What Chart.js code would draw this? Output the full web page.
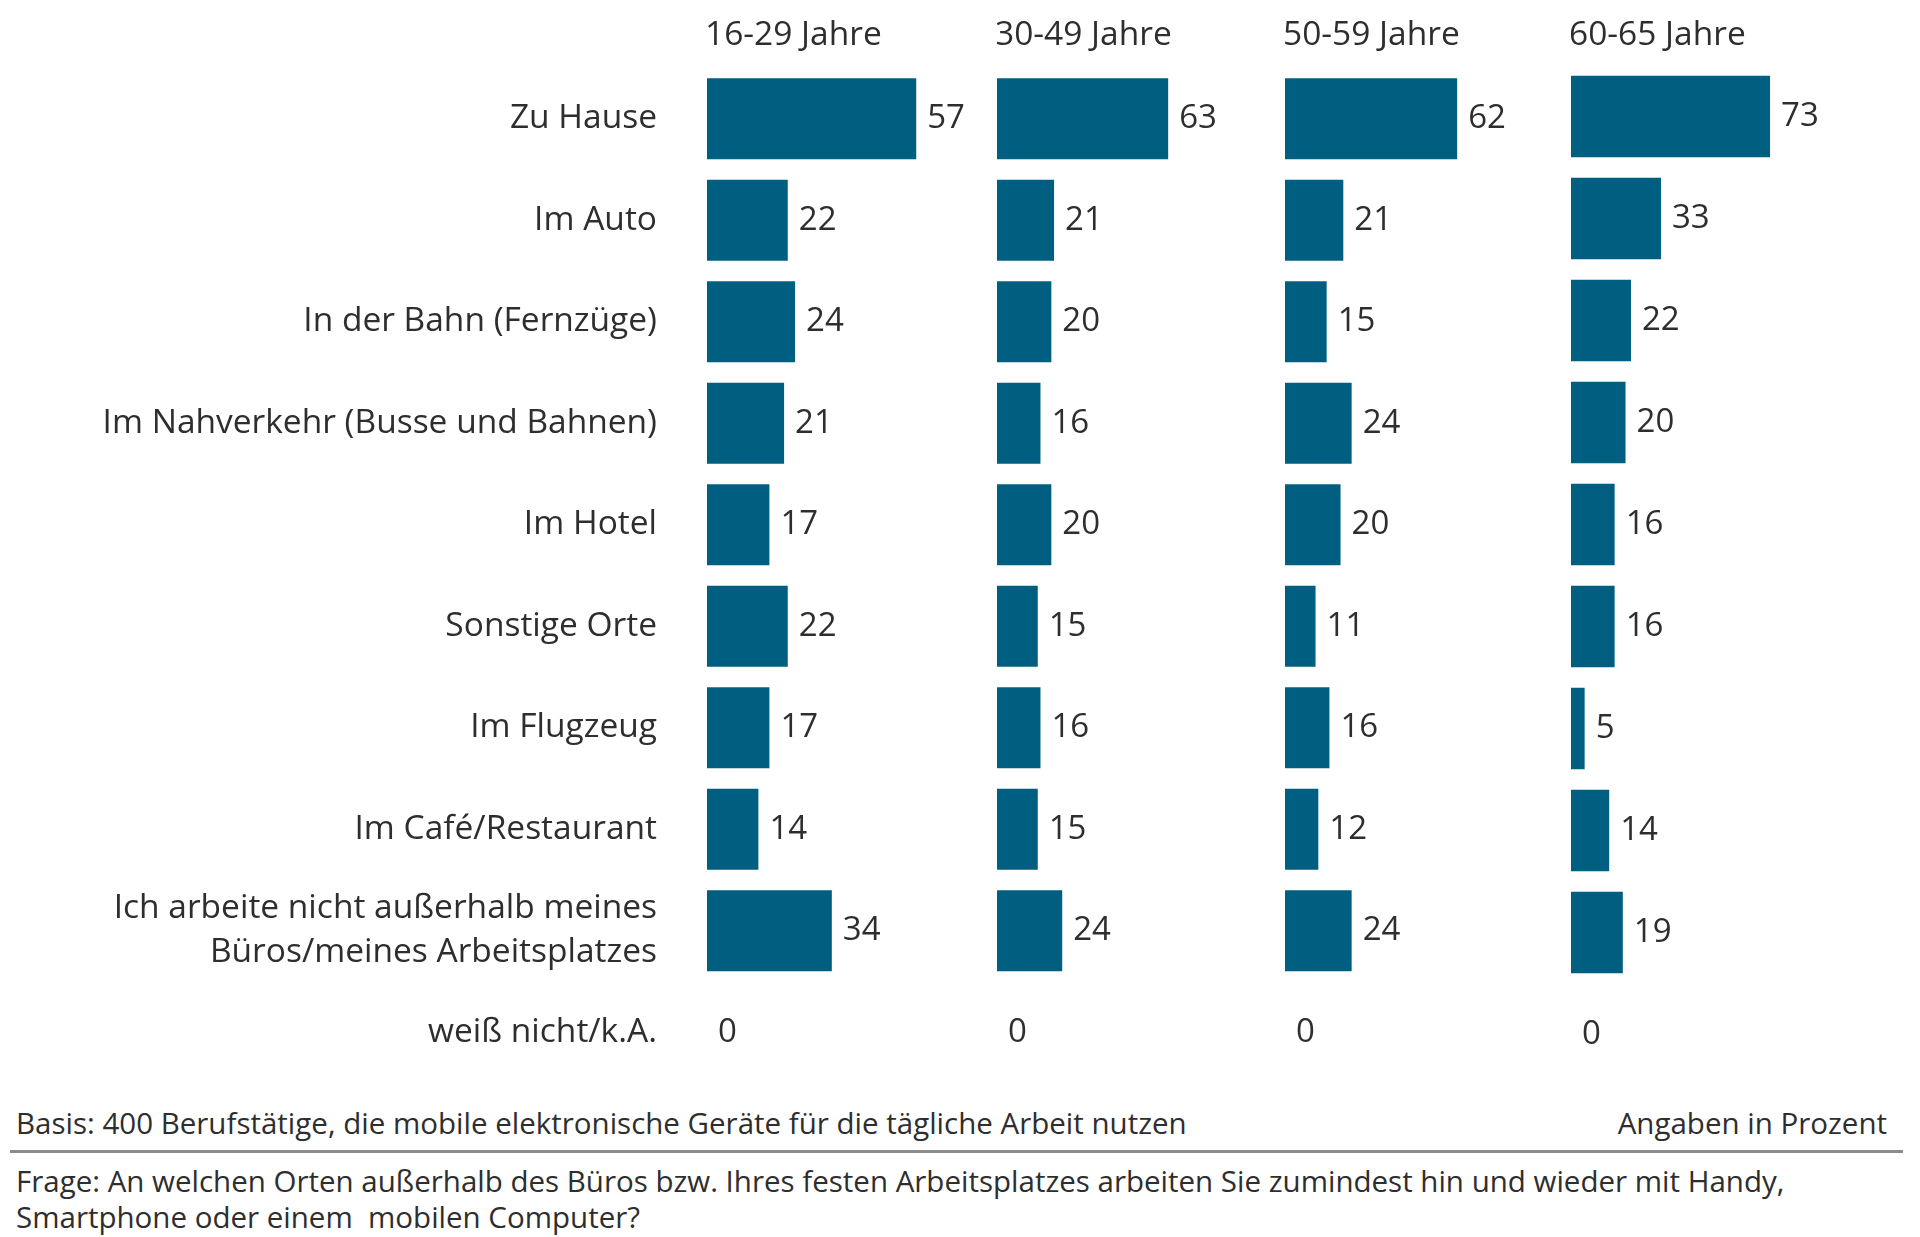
<!DOCTYPE html>
<html>
<head>
<meta charset="utf-8">
<script src="https://cdn.jsdelivr.net/npm/chart.js@4.4.0/dist/chart.umd.min.js"></script>
<style>
  html, body { margin: 0; padding: 0; background: #ffffff; }
  #wrap { position: relative; width: 1920px; height: 1237px; overflow: hidden; background: #fff; }
  canvas { position: absolute; top: 0; }
  .txt { position: absolute; font-family: "Open Sans", sans-serif; color: #2e2e2e; font-size: 29.5px; line-height: 36px; white-space: nowrap; }
  #rule { position: absolute; left: 10px; top: 1150px; width: 1893px; height: 3px; background: #8c8c8c; }
</style>
</head>
<body>
<div id="wrap">
  <canvas id="c1" width="997" height="1090" style="left:0px;width:997px;height:1090px"></canvas>
  <canvas id="c2" width="288" height="1090" style="left:997px;width:288px;height:1090px"></canvas>
  <canvas id="c3" width="286" height="1090" style="left:1285px;width:286px;height:1090px"></canvas>
  <canvas id="c4" width="349" height="1090" style="left:1571px;width:349px;height:1090px"></canvas>
  <div class="txt" id="basis" style="left:16px;top:1105px;"></div>
  <div class="txt" id="unit" style="right:33px;top:1105px;"></div>
  <div id="rule"></div>
  <div class="txt" id="frage" style="left:16px;top:1163px;"></div>
</div>
<script>
// ---- data ----
const categories = [
  'Zu Hause',
  'Im Auto',
  'In der Bahn (Fernzüge)',
  'Im Nahverkehr (Busse und Bahnen)',
  'Im Hotel',
  'Sonstige Orte',
  'Im Flugzeug',
  'Im Café/Restaurant',
  ['Ich arbeite nicht außerhalb meines', 'Büros/meines Arbeitsplatzes'],
  'weiß nicht/k.A.'
];
const ageGroups = ['16-29 Jahre', '30-49 Jahre', '50-59 Jahre', '60-65 Jahre'];
const values16to29 = [57, 22, 24, 21, 17, 22, 17, 14, 34, 0];
const values30to49 = [63, 21, 20, 16, 20, 15, 16, 15, 24, 0];
const values50to59 = [62, 21, 15, 24, 20, 11, 16, 12, 24, 0];
const values60to65 = [73, 33, 22, 20, 16, 16, 5, 14, 19, 0];
const basisText = 'Basis: 400 Berufstätige, die mobile elektronische Geräte für die tägliche Arbeit nutzen';
const unitText = 'Angaben in Prozent';
const frageLines = ['Frage: An welchen Orten außerhalb des Büros bzw. Ihres festen Arbeitsplatzes arbeiten Sie zumindest hin und wieder mit Handy,', 'Smartphone oder einem  mobilen Computer?'];

// ---- styling / layout config ----
const BAR_COLOR = '#005f80';
const TEXT_COLOR = '#2e2e2e';
const FONT = '"Open Sans", sans-serif';
const columnSeries = [values16to29, values30to49, values50to59, values60to65];
const columnAxisMax = [79, 106, 103, 128];
const columnPadTop = [68, 68, 68, 65.5];
const canvasIds = ['c1', 'c2', 'c3', 'c4'];

document.getElementById('basis').textContent = basisText;
document.getElementById('unit').textContent = unitText;
document.getElementById('frage').innerHTML = frageLines.map(s => s.replace(/  /g, ' &nbsp;')).join('<br>');

const valueLabelPlugin = {
  id: 'valueLabels',
  afterDatasetsDraw(chart) {
    const ctx = chart.ctx;
    const meta = chart.getDatasetMeta(0);
    const data = chart.data.datasets[0].data;
    ctx.save();
    ctx.font = '33px ' + FONT;
    ctx.fillStyle = TEXT_COLOR;
    ctx.textAlign = 'left';
    ctx.textBaseline = 'middle';
    meta.data.forEach((bar, i) => {
      ctx.fillText(String(data[i]), bar.x + 11, bar.y);
    });
    ctx.restore();
  }
};

const headerPlugin = {
  id: 'colHeader',
  afterDraw(chart, args, opts) {
    const ctx = chart.ctx;
    ctx.save();
    ctx.font = '33.5px ' + FONT;
    ctx.fillStyle = TEXT_COLOR;
    ctx.textAlign = 'left';
    ctx.textBaseline = 'middle';
    ctx.fillText(opts.text, chart.chartArea.left - 2, 35);
    ctx.restore();
  }
};

columnSeries.forEach((series, idx) => {
  const showLabels = idx === 0;
  new Chart(document.getElementById(canvasIds[idx]), {
    type: 'bar',
    data: {
      labels: categories,
      datasets: [{
        data: series,
        backgroundColor: BAR_COLOR,
        borderWidth: 0,
        barPercentage: 0.8,
        categoryPercentage: 1.0
      }]
    },
    options: {
      indexAxis: 'y',
      responsive: false,
      animation: false,
      devicePixelRatio: 1,
      layout: { padding: { top: columnPadTop[idx], bottom: 1090 - 1083 - (68 - columnPadTop[idx]), left: 0, right: 0 } },
      plugins: {
        legend: { display: false },
        tooltip: { enabled: false },
        colHeader: { text: ageGroups[idx] }
      },
      scales: {
        x: { display: false, min: 0, max: columnAxisMax[idx] },
        y: {
          display: showLabels,
          grid: { display: false, drawTicks: false },
          border: { display: false },
          ticks: {
            padding: 50,
            color: TEXT_COLOR,
            font: { family: FONT, size: 33.5, lineHeight: 1.31 }
          },
          afterFit(scale) {
            if (showLabels) {
              scale.width = 707;
              scale.paddingTop = 0;
              scale.paddingBottom = 0;
            }
          }
        }
      }
    },
    plugins: [valueLabelPlugin, headerPlugin]
  });
});
</script>
</body>
</html>
